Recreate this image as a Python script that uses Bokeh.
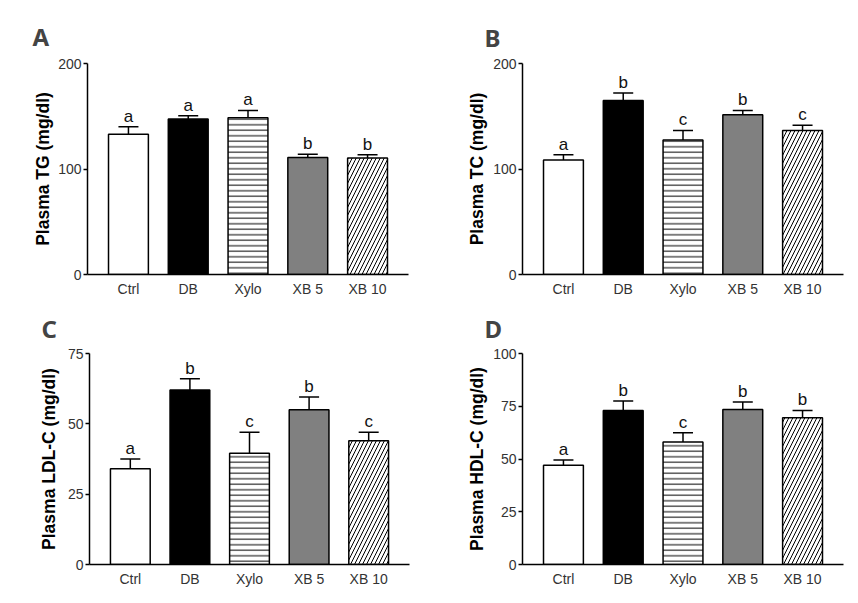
from bokeh.plotting import figure
from bokeh.models import FactorRange, Range1d, ColumnDataSource, Whisker, TeeHead, FixedTicker, Title
from bokeh.layouts import column, row
from bokeh.embed import file_html
from bokeh.resources import INLINE
from bokeh.core.properties import value

categories = ["Ctrl", "DB", "Xylo", "XB 5", "XB 10"]

tg_mean = [133, 147.5, 148.5, 111, 110.5]
tg_sem = [7, 3, 7, 3, 3]
tg_letters = ["a", "a", "a", "b", "b"]

tc_mean = [108.5, 165, 127.5, 151.5, 136.5]
tc_sem = [5, 7, 9, 4, 5]
tc_letters = ["a", "b", "c", "b", "c"]

ldl_mean = [34, 62, 39.5, 55, 44]
ldl_sem = [3.5, 4, 7.5, 4.5, 3]
ldl_letters = ["a", "b", "c", "b", "c"]

hdl_mean = [47, 73, 58, 73.5, 69.5]
hdl_sem = [2.5, 4.5, 4.5, 3.5, 3.5]
hdl_letters = ["a", "b", "c", "b", "b"]

fills = ["white", "black", "white", "#808080", "white"]
hatches = [" ", " ", "-", " ", "/"]
hatch_scales = [6, 6, 5.5, 6, 8]

FONT = "Liberation Sans"
FONT_V = value(FONT)


def panel(letter, ylabel, mean, sem, letters, ymax, yticks, w, h,
          bl, br, bt, bb, label_standoff, title_offset, title_standoff):
    p = figure(x_range=FactorRange(*categories, range_padding=0.074),
               y_range=Range1d(0, ymax), width=w, height=h,
               output_backend="svg", toolbar_location=None,
               min_border_left=bl, min_border_right=br,
               min_border_top=bt, min_border_bottom=bb)
    p.outline_line_color = None
    p.grid.visible = False
    p.background_fill_color = "white"
    p.border_fill_color = "white"

    upper = [m + s for m, s in zip(mean, sem)]
    src = ColumnDataSource(dict(x=categories, top=mean, fill=fills,
                                hatch=hatches, hs=hatch_scales,
                                upper=upper, lab=letters))
    p.vbar(x="x", top="top", width=0.667, source=src, fill_color="fill",
           line_color="black", line_width=1.5, hatch_pattern="hatch",
           hatch_color="black", hatch_scale="hs", hatch_weight=1.0)
    wh = Whisker(base="x", lower="top", upper="upper", source=src,
                 line_color="black", line_width=1.5,
                 upper_head=TeeHead(size=20, line_color="black", line_width=1.5),
                 lower_head=None)
    p.add_layout(wh)
    p.text(x="x", y="upper", text="lab", source=src, text_align="center",
           text_baseline="bottom", y_offset=-1, text_font_size="17px",
           text_font=FONT_V, text_color="#111111")

    p.yaxis.ticker = FixedTicker(ticks=yticks)
    p.yaxis.major_tick_out = 4
    p.yaxis.major_tick_in = 0
    p.yaxis.minor_tick_out = 0
    p.yaxis.minor_tick_in = 0
    p.yaxis.major_label_standoff = 2

    p.xaxis.major_tick_out = 0
    p.xaxis.major_tick_in = 0
    p.xaxis.major_label_standoff = 6

    for ax in (p.xaxis, p.yaxis):
        ax.axis_line_width = 1.5
        ax.axis_line_color = "black"
        ax.major_tick_line_width = 1.5
        ax.major_label_text_font = FONT
        ax.major_label_text_font_size = "14px"
        ax.major_label_text_color = "#333333"

    yl = Title(text=ylabel, align="center", offset=11, standoff=label_standoff,
               text_font=FONT, text_font_style="bold", text_font_size="17.5px",
               text_color="black")
    p.add_layout(yl, "left")

    p.title.text = letter
    p.title.text_font = "Noto Sans"
    p.title.text_font_style = "bold"
    p.title.text_font_size = "24px"
    p.title.align = "left"
    p.title.offset = title_offset
    p.title.standoff = title_standoff
    return p


pA = panel("A", "Plasma TG (mg/dl)", tg_mean, tg_sem, tg_letters, 200, [0, 100, 200],
           425, 299, 87, 17, 62, 25, 6, -55, 21)
pB = panel("B", "Plasma TC (mg/dl)", tc_mean, tc_sem, tc_letters, 200, [0, 100, 200],
           425, 299, 97, 7, 63, 24, 7, -38, 20)
pC = panel("C", "Plasma LDL-C (mg/dl)", ldl_mean, ldl_sem, ldl_letters, 75, [0, 25, 50, 75],
           425, 296, 89, 16, 54, 29, 11, -48, 18)
pD = panel("D", "Plasma HDL-C (mg/dl)", hdl_mean, hdl_sem, hdl_letters, 100, [0, 25, 50, 75, 100],
           425, 296, 97, 7, 53, 31, 7, -38, 17)

layout = column(row(pA, pB), row(pC, pD))

open("out.html", "w").write(file_html(layout, INLINE))
